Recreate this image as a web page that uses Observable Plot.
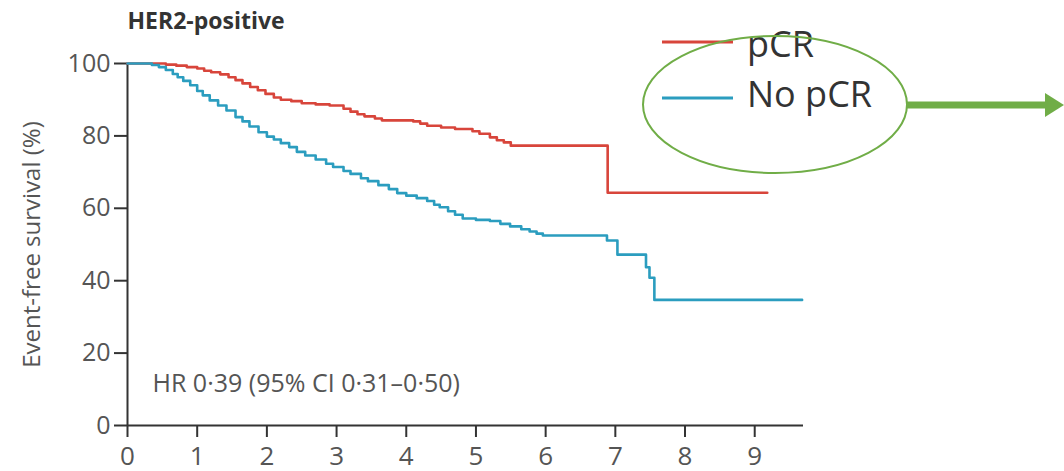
<!DOCTYPE html>
<html><head><meta charset="utf-8">
<script src="https://cdn.jsdelivr.net/npm/d3@7"></script>
<script src="https://cdn.jsdelivr.net/npm/@observablehq/plot@0.6"></script>
<style>body{margin:0;background:#fff} #chart svg{display:block}</style>
</head><body><div id="chart"></div>
<script>
const seriesNames = ["pCR", "No pCR"];
const seriesColors = ["#d8453b", "#2b9dbf"];
const pcrTime = [0,0.55,0.7,0.85,1.0,1.1,1.2,1.33,1.45,1.55,1.65,1.76,1.87,1.98,2.1,2.2,2.35,2.5,2.7,2.9,3.1,3.2,3.3,3.4,3.55,3.65,4.1,4.2,4.3,4.5,4.7,4.95,5.05,5.2,5.3,5.4,5.5,6.89,9.18];
const pcrSurv = [100,99.7,99.4,99.0,98.6,98.0,97.6,97.0,96.2,95.4,94.5,93.5,92.6,91.6,90.6,90.0,89.6,89.0,88.7,88.4,87.5,86.7,86.0,85.4,84.8,84.3,84.0,83.4,82.8,82.3,81.9,81.3,80.6,79.6,78.8,78.2,77.3,64.3,64.3];
const noPcrTime = [0,0.35,0.45,0.55,0.65,0.72,0.8,0.9,1.0,1.08,1.18,1.3,1.42,1.55,1.65,1.75,1.88,2.0,2.1,2.2,2.32,2.43,2.55,2.7,2.85,2.95,3.1,3.2,3.35,3.45,3.6,3.75,3.87,4.0,4.15,4.3,4.4,4.48,4.6,4.7,4.81,5.0,5.2,5.35,5.49,5.65,5.77,5.87,5.96,6.88,7.03,7.44,7.49,7.56,9.68];
const noPcrSurv = [100,99.6,99.0,98.2,97.1,96.2,95.2,94.0,92.4,91.2,89.8,88.4,87.0,85.2,84.0,82.6,81.0,79.8,79.0,78.0,76.9,75.6,74.6,73.5,72.3,71.4,70.3,69.5,68.3,67.5,66.4,65.3,64.2,63.5,62.8,62.0,61.0,60.3,59.2,58.2,57.2,56.8,56.5,55.7,55.0,54.2,53.6,53.0,52.5,51.1,47.2,43.7,40.8,34.7,34.7];
const yTicks = [0,20,40,60,80,100];
const xTicks = [0,1,2,3,4,5,6,7,8,9];
const titleText = "HER2-positive";
const yLabel = "Event-free survival (%)";
const hrText = "HR 0·39 (95% CI 0·31–0·50)";

const data = [
  ...pcrTime.map((t, i) => ({t, s: pcrSurv[i], g: seriesNames[0]})),
  ...noPcrTime.map((t, i) => ({t, s: noPcrSurv[i], g: seriesNames[1]}))
];

const font = "'Open Sans', sans-serif";
const plot = Plot.plot({
  width: 1064, height: 471,
  marginLeft: 127, marginRight: 261, marginTop: 63, marginBottom: 46,
  style: {fontFamily: font, background: "#fff", color: "#555", overflow: "visible"},
  x: {domain: [0, 9.7]},
  y: {domain: [0, 100]},
  color: {domain: seriesNames, range: seriesColors},
  marks: [
    Plot.axisY(yTicks, {tickSize: 13, tickPadding: 4, fontSize: 25, stroke: "#333", strokeWidth: 2, fill: "#555", label: null}),
    Plot.axisX(xTicks, {tickSize: 12, tickPadding: 9, fontSize: 26, stroke: "#333", strokeWidth: 2, fill: "#555", label: null}),
    Plot.ruleX([0], {stroke: "#333", strokeWidth: 2}),
    Plot.ruleY([0], {stroke: "#333", strokeWidth: 2}),
    Plot.line(data, {x: "t", y: "s", z: "g", stroke: "g", curve: "step-after", strokeWidth: 2.6}),
    Plot.text([titleText], {frameAnchor: "top-left", dx: 0, dy: -42, textAnchor: "start", lineAnchor: "middle", fontWeight: "bold", fontSize: 23, fill: "#333"}),
    Plot.text([yLabel], {frameAnchor: "left", rotate: -90, dx: -95, textAnchor: "middle", fontSize: 24, fill: "#555"}),
    Plot.text([hrText], {frameAnchor: "bottom-left", dx: 25, dy: -34, textAnchor: "start", fontSize: 25, fill: "#555"})
  ]
});
document.getElementById("chart").appendChild(plot);

// Legend and annotation
const svg = d3.select(plot);
const leg = svg.append("g").attr("font-family", font).attr("text-anchor", "start");
[[42, 57], [98, 107]].forEach(([ly, by], i) => {
  leg.append("line").attr("x1", 662).attr("x2", 733).attr("y1", ly).attr("y2", ly)
    .attr("stroke", seriesColors[i]).attr("stroke-width", 3);
  leg.append("text").attr("x", 747).attr("y", by).attr("font-size", 36).attr("fill", "#333")
    .text(seriesNames[i]);
});
const green = "#70ad47";
svg.append("ellipse").attr("cx", 775).attr("cy", 104.5).attr("rx", 132).attr("ry", 68.5)
  .attr("fill", "none").attr("stroke", green).attr("stroke-width", 2);
svg.append("line").attr("x1", 907).attr("x2", 1046).attr("y1", 105).attr("y2", 105)
  .attr("stroke", green).attr("stroke-width", 7);
svg.append("path").attr("d", "M1045,93 L1064,105 L1045,117 Z").attr("fill", green);
</script></body></html>
